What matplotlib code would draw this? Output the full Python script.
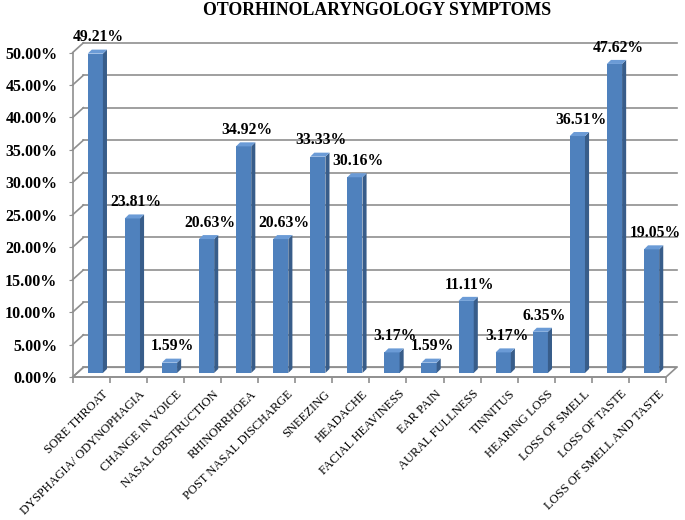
import numpy as np
import matplotlib
matplotlib.use("Agg")
from matplotlib import pyplot as plt
from matplotlib.patches import Polygon

# data
symptoms = ["SORE THROAT", "DYSPHAGIA/ ODYNOPHAGIA", "CHANGE IN VOICE",
            "NASAL OBSTRUCTION", "RHINORRHOEA", "POST NASAL DISCHARGE",
            "SNEEZING", "HEADACHE", "FACIAL HEAVINESS", "EAR PAIN",
            "AURAL FULLNESS", "TINNITUS", "HEARING LOSS", "LOSS OF SMELL",
            "LOSS OF TASTE", "LOSS OF SMELL AND TASTE"]
percent = [49.21, 23.81, 1.59, 20.63, 34.92, 20.63, 33.33, 30.16,
           3.17, 1.59, 11.11, 3.17, 6.35, 36.51, 47.62, 19.05]
yticks = [0, 5, 10, 15, 20, 25, 30, 35, 40, 45, 50]

SERIF = "Liberation Serif"
GRID = "#8f8f8f"
FRONT = "#4f81bd"
SIDE = "#385d8a"
TOP = "#6b9bd6"

# fake 3d depth (data units)
wall_dx, wall_dy = 0.29, 1.5
bar_shift, bar_lift = 0.11, 0.62
bar_w = 0.41
bar_dx, bar_dy = 0.11, 0.62

fig = plt.figure(figsize=(6.85, 5.2), dpi=100)
ax = fig.add_axes([0.1061, 0.275, 0.8662, 0.624])
n = len(percent)
x = np.arange(n)
ax.set_xlim(-0.5, n - 0.5)
ax.set_ylim(0, 50)

# floor
floor = Polygon([(-0.5, 0), (n - 0.5, 0), (n - 0.5 + wall_dx, wall_dy),
                 (-0.5 + wall_dx, wall_dy)], closed=True, facecolor="white",
                edgecolor=GRID, lw=1.2, clip_on=False, zorder=1)
ax.add_patch(floor)

# back wall gridlines + diagonals to the front axis
for v in yticks:
    ax.plot([-0.5 + wall_dx, n - 0.5 + wall_dx], [v + wall_dy, v + wall_dy],
            color=GRID, lw=1.2, clip_on=False, zorder=1)
    ax.plot([-0.5, -0.5 + wall_dx], [v, v + wall_dy], color=GRID, lw=1.2,
            clip_on=False, zorder=1)

# bars: front face, side, top
left = x + bar_shift - bar_w / 2
ax.bar(x + bar_shift, percent, width=bar_w, bottom=bar_lift, color=FRONT,
       edgecolor="none", zorder=3, clip_on=False)
for l, v in zip(left, percent):
    r = l + bar_w
    b = bar_lift
    t = v + bar_lift
    side = Polygon([(r, b), (r + bar_dx, b + bar_dy), (r + bar_dx, t + bar_dy), (r, t)],
                   closed=True, facecolor=SIDE, edgecolor="none", zorder=3, clip_on=False)
    top = Polygon([(l, t), (r, t), (r + bar_dx, t + bar_dy), (l + bar_dx, t + bar_dy)],
                  closed=True, facecolor=TOP, edgecolor="none", zorder=3, clip_on=False)
    ax.add_patch(side)
    ax.add_patch(top)
    ax.annotate("%.2f%%" % v, (l + (bar_w + bar_dx) / 2, t + bar_dy),
                xytext=(1, 3), textcoords="offset points", ha="center",
                va="bottom", fontsize=11.3, fontweight="bold", family=SERIF,
                zorder=5, annotation_clip=False)

# axes styling
for s in ["top", "right"]:
    ax.spines[s].set_visible(False)
for s in ["left", "bottom"]:
    ax.spines[s].set_color(GRID)
    ax.spines[s].set_linewidth(1.2)
    ax.spines[s].set_zorder(2)

ax.set_yticks(yticks)
ax.set_yticklabels(["%.2f%%" % v for v in yticks], fontsize=11.5,
                   fontweight="bold", family=SERIF)
ax.tick_params(axis="y", length=3, color=GRID, pad=8)

ax.set_xticks(x + 0.28)
ax.set_xticklabels(symptoms, rotation=45, ha="right", rotation_mode="anchor",
                   fontsize=9, family=SERIF)
ax.set_xticks(np.arange(n + 1) - 0.5, minor=True)
ax.tick_params(axis="x", which="major", length=0, pad=8)
ax.tick_params(axis="x", which="minor", length=4, color=GRID, width=1.2)

fig.text(0.551, 0.979, "OTORHINOLARYNGOLOGY SYMPTOMS", ha="center", va="center",
         fontsize=12.8, fontweight="bold", family=SERIF)

fig.savefig("out.png", dpi=100, facecolor="white")
